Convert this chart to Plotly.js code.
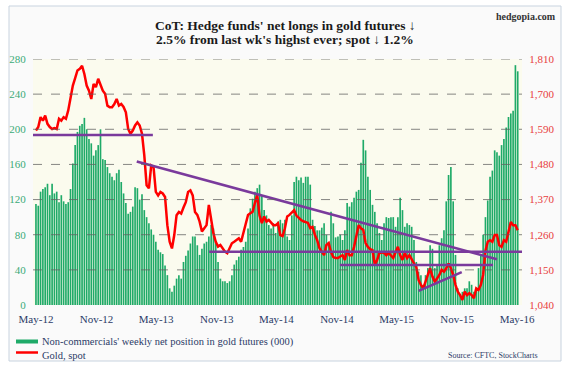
<!DOCTYPE html>
<html>
<head>
<meta charset="utf-8">
<script src="https://cdn.plot.ly/plotly-3.0.1.min.js"></script>
<style>html,body{margin:0;padding:0;background:#fff;}#chart{width:564px;height:367px;}</style>
</head>
<body>
<div id="chart"></div>
<script>
// Non-commercials' weekly net position in gold futures (000), weekly from May-2012
const netLongs = [
115,113,129,132,134,138,125,138,127,129,117,125,118,115,117,132,161,182,197,204,206,213,200,189,184,170,176,182,200,166,
165,157,150,146,142,150,154,140,127,116,104,106,112,134,133,120,126,108,100,93,86,80,72,63,60,58,45,34,19,15,22,30,34,30,49,
56,62,70,78,78,68,57,64,70,72,78,91,87,72,49,30,27,27,25,27,34,46,51,55,63,66,72,87,110,121,129,133,137,
125,108,102,91,87,93,82,95,97,93,97,78,
74,102,140,146,142,145,139,146,146,137,
97,90,85,85,88,93,80,71,106,93,
77,78,80,74,85,116,112,117,122,129,
131,162,188,176,146,131,114,106,93,82,
74,93,100,99,100,100,89,100,122,108,
89,93,91,89,74,
49,38,34,23,34,42,68,64,42,46,68,76,85,118,148,157,118,57,19,11,15,19,19,27,23,15,19,42,57,80,
100,119,146,153,176,174,170,182,189,202,214,218,221,273,266
];
// Gold, spot ($/oz), same weeks
const goldSpot = [
1586,1597,1628,1617,1633,1607,1597,1591,1594,1591,
1623,1617,1628,1623,1649,1685,1727,1750,1774,1779,
1789,1763,1727,1711,1685,1732,1722,1748,1727,1711,
1701,1664,1659,1659,1669,1685,1664,1669,1660,1643,
1591,1576,1586,1602,1612,1602,1576,1508,1415,1405,
1477,1472,1394,1383,1394,1389,1378,1290,1238,1217,
1259,1321,1331,1326,1345,1362,1394,1399,1383,1331,
1322,1301,1270,1280,1290,1353,1311,1264,1238,1223,
1228,1217,1207,1202,1220,1233,1238,1243,1249,1238,
1264,1296,1322,1327,1332,1360,1384,1320,1296,1317,
1301,1306,1296,1290,1290,1296,1259,1256,1280,1317,
1322,1330,1337,1320,1312,1306,1302,1300,1297,1281,
1284,1260,1243,1218,1205,1196,1228,1234,1206,1190,
1187,1187,1192,1196,1181,1212,1196,1196,1222,1259,
1290,1280,1275,1234,1222,1215,1212,1165,1181,1203,
1205,1203,1196,1203,1195,1187,1205,1222,1196,1181,
1203,1187,1196,1181,1170,1159,1118,1103,1092,1113,
1134,1155,1129,1113,1123,1134,1150,1144,1155,1170,
1155,1134,1103,1082,1071,1056,1082,1071,1077,1071,
1061,1092,1087,1103,1134,1210,1238,1243,1238,1259,
1259,1227,1222,1243,1238,1274,1300,1290,1290,1274
];
// Hand-drawn trend lines (dates, gold price)
const trendX = [
  ['2012-04-22','2013-04-21'],
  ['2013-03-03','2016-03-01'],
  ['2013-10-09','2016-05-16'],
  ['2014-11-10','2016-02-18'],
  ['2015-07-07','2015-11-15']
];
const trendY = [
  [1572,1572],
  [1489,1183],
  [1207,1207],
  [1165,1165],
  [1084,1143]
];
const leftTicks = [0,40,80,120,160,200,240,280];
const rightTicks = [1040,1150,1260,1370,1480,1590,1700,1810];
const titleLines = ["CoT: Hedge funds' net longs in gold futures \u2193", "2.5% from last wk's highst ever; spot \u2193 1.2%"];
const legendLabels = ["Non-commercials' weekly net position in gold futures (000)", "Gold, spot"];

const start = Date.UTC(2012,4,1);
const weeks = netLongs.map((_, i) => new Date(start + i*7*86400000).toISOString().slice(0,10));

const SERIF = '"Liberation Serif", "Times New Roman", serif';
const L = 33, R = 522, T = 59, B = 305;
const px = x => (x - L) / (R - L);
const py = y => (B - y) / (B - T);

const traces = [
  {type:'bar', x:weeks, y:netLongs, yaxis:'y', marker:{color:'#1faa68', line:{width:0}}, hoverinfo:'skip'},
  {type:'scatter', mode:'lines', x:weeks, y:goldSpot, yaxis:'y2', line:{color:'#ff0000', width:2.5}, hoverinfo:'skip'}
];
trendX.forEach((tx, i) => traces.push({type:'scatter', mode:'lines', x:tx, y:trendY[i], yaxis:'y2', line:{color:'#7a3a9c', width:2.5}, hoverinfo:'skip'}));

const shapes = [
  {type:'rect', xref:'paper', yref:'paper', x0:px(9), x1:px(561), y0:py(361), y1:py(6), line:{color:'#c8d3df', width:1}, fillcolor:'#fafafa', layer:'below'},
  {type:'rect', xref:'paper', yref:'paper', x0:0, x1:1, y0:0, y1:1, line:{width:0}, fillcolor:'#fbfbee', layer:'below'}
];
leftTicks.slice(1).forEach(v => shapes.push({type:'line', xref:'paper', yref:'y', x0:0, x1:1, y0:v, y1:v, line:{color:'rgba(95,95,95,0.75)', width:1, dash:'dash'}, layer:'above'}));
shapes.push({type:'rect', xref:'paper', yref:'paper', x0:px(16), x1:px(38), y0:py(343.5), y1:py(339.5), line:{width:0}, fillcolor:'#1faa68'});
shapes.push({type:'line', xref:'paper', yref:'paper', x0:px(16), x1:px(38), y0:py(352.5), y1:py(352.5), line:{color:'#ff0000', width:2.5}});

const annotations = [
  {xref:'paper', yref:'paper', x:px(285), y:py(25), text:'<b>'+titleLines[0]+'</b>', showarrow:false, xanchor:'center', yanchor:'middle', font:{family:SERIF, size:13.5, color:'#1a1a1a'}},
  {xref:'paper', yref:'paper', x:px(285), y:py(39.5), text:'<b>'+titleLines[1]+'</b>', showarrow:false, xanchor:'center', yanchor:'middle', font:{family:SERIF, size:13.5, color:'#1a1a1a'}},
  {xref:'paper', yref:'paper', x:px(558), y:py(16), text:'<b>hedgopia.com</b>', showarrow:false, xanchor:'right', yanchor:'middle', font:{family:SERIF, size:10, color:'#333'}},
  {xref:'paper', yref:'paper', x:px(40), y:py(341.5), text:legendLabels[0], showarrow:false, xanchor:'left', yanchor:'middle', font:{family:SERIF, size:10.5, color:'#2b3a67'}},
  {xref:'paper', yref:'paper', x:px(40), y:py(355), text:legendLabels[1], showarrow:false, xanchor:'left', yanchor:'middle', font:{family:SERIF, size:10.5, color:'#2b3a67'}},
  {xref:'paper', yref:'paper', x:px(540), y:py(355), text:'Source: CFTC, StockCharts', showarrow:false, xanchor:'right', yanchor:'middle', font:{family:SERIF, size:8, color:'#2b3a67'}}
];

const layout = {
  width:564, height:367,
  margin:{l:L, r:564-R, t:T, b:367-B, pad:0},
  paper_bgcolor:'#ffffff', plot_bgcolor:'rgba(0,0,0,0)',
  showlegend:false, bargap:0.28,
  xaxis:{type:'date', range:['2012-04-22','2016-05-16'], dtick:'M6', tick0:'2012-05-01', tickformat:'%b-%y',
         showgrid:false, zeroline:false, showline:false, ticks:'outside', ticklen:4, tickcolor:'rgba(0,0,0,0)',
         tickfont:{family:SERIF, size:11, color:'#2b3a67'}, fixedrange:true},
  yaxis:{range:[0,280], tickvals:leftTicks, showgrid:false, zeroline:false, showline:false,
         ticks:'outside', ticklen:4, tickcolor:'rgba(0,0,0,0)', tickfont:{family:SERIF, size:11, color:'#3aaa78'}},
  yaxis2:{range:[1040,1810], tickvals:rightTicks, tickformat:',', overlaying:'y', side:'right', showgrid:false, zeroline:false,
         ticks:'outside', ticklen:4, tickcolor:'rgba(0,0,0,0)', tickfont:{family:SERIF, size:11, color:'#e84040'}},
  shapes, annotations
};

Plotly.newPlot('chart', traces, layout, {staticPlot:true, displayModeBar:false});
</script>
</body>
</html>
